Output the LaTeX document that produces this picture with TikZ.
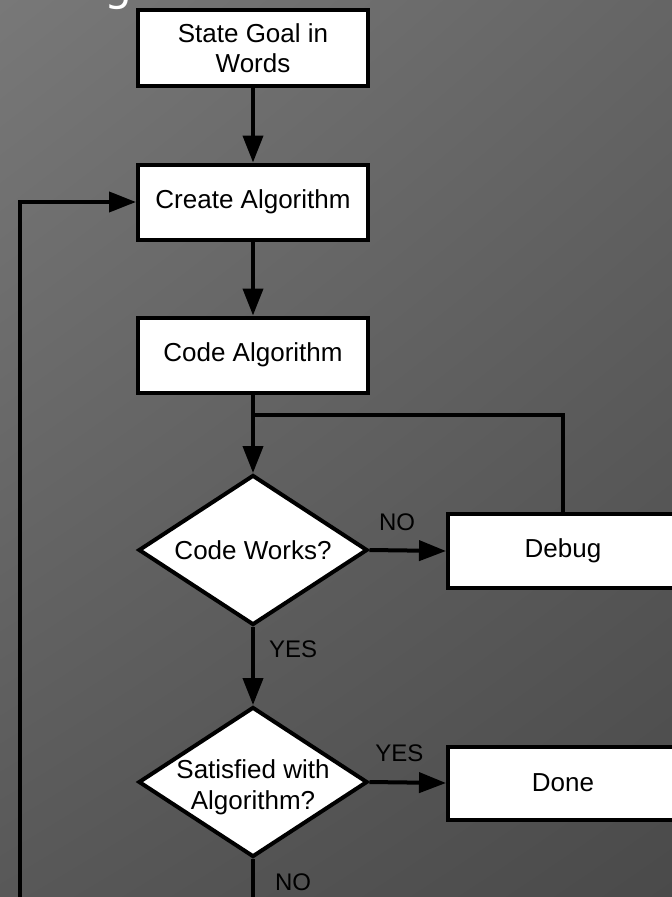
\documentclass[tikz,border=0pt]{standalone}
\usepackage{fontspec}
\setmainfont{Liberation Sans}
\newfontfamily\titlefont{DejaVu Sans}
\usetikzlibrary{shapes.geometric,arrows.meta,shadings}
\definecolor{bgUL}{HTML}{787878}
\definecolor{bgUR}{HTML}{656565}
\definecolor{bgLL}{HTML}{585858}
\definecolor{bgLR}{HTML}{4A4A4A}
\begin{document}
\begin{tikzpicture}[x=1pt,y=-1pt,
  box/.style={draw=black,fill=white,line width=4pt,minimum width=230pt,minimum height=76pt,inner sep=0pt,font=\fontsize{26}{30}\selectfont,align=center},
  dec/.style={diamond,draw=black,fill=white,line width=4pt,minimum width=229pt,minimum height=150pt,inner sep=0pt,shape aspect=1.5,font=\fontsize{26}{30}\selectfont,align=center},
  conn/.style={line width=4pt},
  arr/.style={conn,-{Triangle[length=27pt,width=20pt]}},
  lbl/.style={font=\fontsize{24}{28}\selectfont,inner sep=0pt,text=black}]
\clip (0,0) rectangle (672,897);
\shade[upper left=bgUL,upper right=bgUR,lower left=bgLL,lower right=bgLR] (0,0) rectangle (672,897);
\node[anchor=base west,text=white,font=\titlefont\fontsize{44}{50}\selectfont,inner sep=0pt] (title) at (104,0) {g};
\node[box] (goal) at (253,48) {State Goal in\\Words};
\node[box,minimum height=75pt] (create) at (253,202) {Create Algorithm};
\node[box,minimum height=75pt] (code) at (253,355) {Code Algorithm};
\node[dec] (works) at (253,550) {Code Works?};
\node[box,minimum height=74pt] (debug) at (563,551) {\raisebox{-3pt}{Debug}};
\node[dec] (sat) at (253,782) {};
\node[font=\fontsize{26}{31}\selectfont,align=center,inner sep=0pt] (sattext) at (253,787) {Satisfied with\\Algorithm?};
\node[box,minimum height=73pt] (done) at (563,783) {Done};
\coordinate (join) at (253,415);
\coordinate (loopbr) at (253,930);
\coordinate (loopbl) at (20,930);
\draw[arr] (goal.south) -- (create.north);
\draw[arr] (create.south) -- (code.north);
\draw[arr] (code.south) -- (works.north);
\draw[conn] (debug.north) |- (join);
\draw[arr] (works.east) -- node[lbl,above=18pt,pos=0.36] (nolbl) {NO} (debug.west);
\draw[arr] (works.south) -- node[lbl,anchor=west,xshift=14pt,pos=0.28] (yeslbl) {YES} (sat.north);
\draw[arr] (sat.east) -- node[lbl,above=19pt,pos=0.39] (yeslbltwo) {YES} (done.west);
\draw[arr] (sat.south) -- node[lbl,anchor=west,xshift=20pt,pos=0.33] (nolbltwo) {NO} (loopbr) -- (loopbl) |- (create.west);
\end{tikzpicture}
\end{document}
